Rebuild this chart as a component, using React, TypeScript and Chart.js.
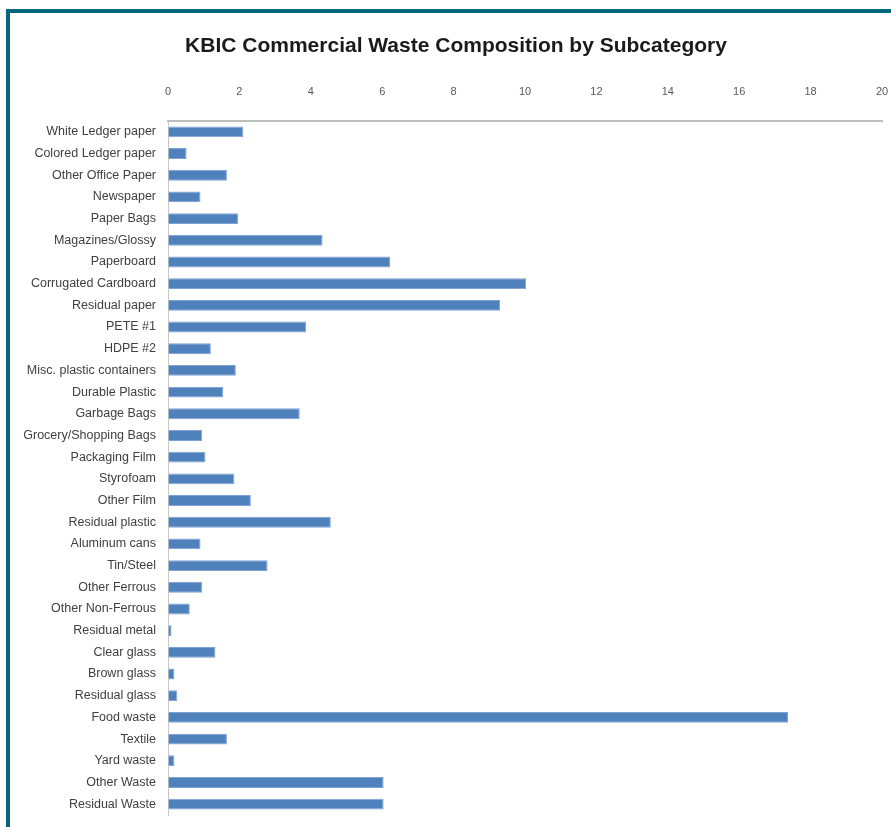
import React, { useEffect, useRef } from "react";
import { Chart, registerables } from "chart.js";

Chart.register(...registerables);

const categories: string[] = [
  "White Ledger paper",
  "Colored Ledger paper",
  "Other Office Paper",
  "Newspaper",
  "Paper Bags",
  "Magazines/Glossy",
  "Paperboard",
  "Corrugated Cardboard",
  "Residual paper",
  "PETE #1",
  "HDPE #2",
  "Misc. plastic containers",
  "Durable Plastic",
  "Garbage Bags",
  "Grocery/Shopping Bags",
  "Packaging Film",
  "Styrofoam",
  "Other Film",
  "Residual plastic",
  "Aluminum cans",
  "Tin/Steel",
  "Other Ferrous",
  "Other Non-Ferrous",
  "Residual metal",
  "Clear glass",
  "Brown glass",
  "Residual glass",
  "Food waste",
  "Textile",
  "Yard waste",
  "Other Waste",
  "Residual Waste",
];

const values: number[] = [
  2.11, 0.52, 1.65, 0.91, 1.97, 4.33, 6.22, 10.03, 9.3, 3.87, 1.2, 1.9, 1.55,
  3.69, 0.96, 1.05, 1.86, 2.32, 4.56, 0.91, 2.79, 0.96, 0.61, 0.1, 1.33, 0.18,
  0.26, 17.37, 1.65, 0.18, 6.04, 6.04,
];

const xMin = 0;
const xMax = 20;
const xStep = 2;

const title = "KBIC Commercial Waste Composition by Subcategory";

const titlePlugin = {
  id: "offsetTitle",
  afterDraw(chart: any) {
    const ctx = chart.ctx;
    ctx.save();
    ctx.font = "bold 21px 'Liberation Sans'";
    ctx.fillStyle = "#1a1a1a";
    ctx.textAlign = "center";
    ctx.textBaseline = "middle";
    ctx.fillText(title, 456, 46);
    ctx.restore();
  },
};

export default function App() {
  const ref = useRef<HTMLCanvasElement | null>(null);

  useEffect(() => {
    if (!ref.current) return;
    const chart = new Chart(ref.current, {
      type: "bar",
      data: {
        labels: categories,
        datasets: [
          {
            data: values,
            backgroundColor: "#4f81bd",
            borderColor: "#7fa3d3",
            borderWidth: 1,
            categoryPercentage: 1,
            barPercentage: 0.5,
          },
        ],
      },
      options: {
        indexAxis: "y",
        animation: false,
        responsive: false,
        maintainAspectRatio: false,
        layout: { padding: { left: 10, right: 9, top: 78, bottom: 12 } },
        plugins: {
          legend: { display: false },
          tooltip: { enabled: false },
          title: { display: false },
        },
        scales: {
          x: {
            position: "top",
            min: xMin,
            max: xMax,
            ticks: {
              stepSize: xStep,
              color: "#595959",
              font: { family: "Liberation Sans", size: 11 },
              padding: 22,
            },
            grid: {
              display: true,
              drawOnChartArea: false,
              drawTicks: false,
              tickLength: 0,
            },
            border: { display: true, color: "#bdbdbd", width: 2 },
            afterFit: (scale: any) => {
              scale.height = 43;
              scale.paddingLeft = 0;
              scale.paddingRight = 0;
            },
          },
          y: {
            ticks: {
              color: "#404040",
              font: { family: "Liberation Sans", size: 12.5 },
              padding: 12,
              autoSkip: false,
            },
            grid: { display: false, drawTicks: false },
            border: { display: true, color: "#c8c8c8", width: 1 },
            afterFit: (scale: any) => {
              scale.width = 158;
              scale.paddingTop = 0;
              scale.paddingBottom = 0;
            },
          },
        },
      },
      plugins: [titlePlugin],
    });
    return () => chart.destroy();
  }, []);

  return (
    <div
      style={{
        position: "fixed",
        left: 0,
        top: 0,
        width: 891,
        height: 827,
        background: "#ffffff",
        overflow: "hidden",
      }}
    >
      <div
        style={{
          position: "absolute",
          left: 6,
          top: 9,
          width: 1000,
          height: 1000,
          borderLeft: "4px solid #05677e",
          borderTop: "4px solid #05677e",
        }}
      />
      <canvas
        ref={ref}
        width={891}
        height={827}
        style={{ position: "absolute", left: 0, top: 0 }}
      />
    </div>
  );
}
